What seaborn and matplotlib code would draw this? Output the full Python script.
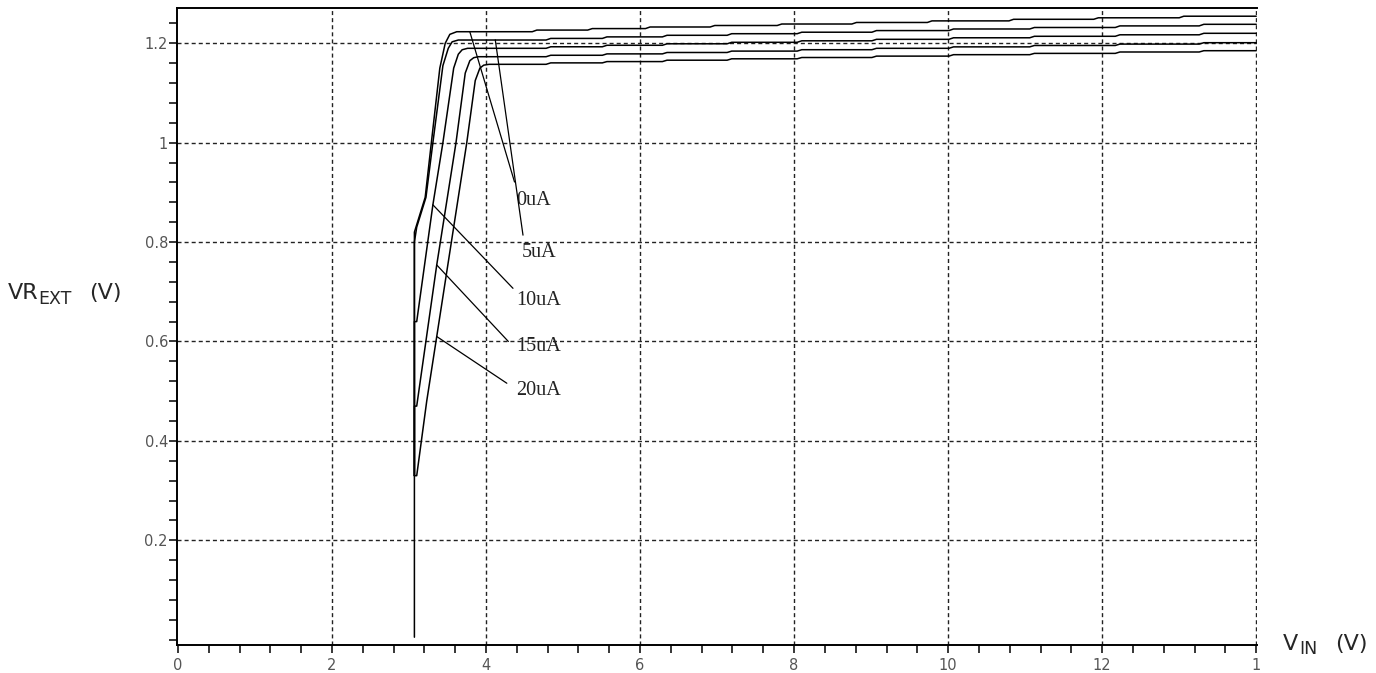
import pandas as pd
import matplotlib
matplotlib.use("Agg")
import matplotlib.pyplot as plt
import seaborn as sns
from matplotlib.ticker import MultipleLocator

# --- Values (VIN in V, VR_EXT in V) ---
curve_names = ["0uA", "5uA", "10uA", "15uA", "20uA"]

# steep rising part of each curve (starts with the vertical jump at ~3.07 V)
rise_x_0 = [3.07, 3.07, 3.10, 3.15, 3.21, 3.29, 3.40, 3.47, 3.53, 3.62]
rise_y_0 = [0.005, 0.82, 0.835, 0.86, 0.89, 1.0, 1.15, 1.20, 1.218, 1.2233]
rise_x_5 = [3.07, 3.07, 3.10, 3.22, 3.31, 3.44, 3.51, 3.56, 3.64]
rise_y_5 = [0.33, 0.80, 0.83, 0.89, 1.0, 1.155, 1.19, 1.203, 1.2066]
rise_x_10 = [3.07, 3.07, 3.10, 3.31, 3.44, 3.58, 3.64, 3.69, 3.76]
rise_y_10 = [0.33, 0.64, 0.64, 0.875, 1.0, 1.15, 1.178, 1.187, 1.1899]
rise_x_15 = [3.07, 3.07, 3.10, 3.36, 3.61, 3.73, 3.79, 3.84, 3.90]
rise_y_15 = [0.33, 0.47, 0.47, 0.754, 1.0, 1.14, 1.165, 1.171, 1.1730]
rise_x_20 = [3.07, 3.10, 3.23, 3.36, 3.48, 3.75, 3.86, 3.92, 3.97, 4.04]
rise_y_20 = [0.33, 0.33, 0.48, 0.61, 0.73, 1.0, 1.125, 1.15, 1.156, 1.1577]

# small staircase steps on the flat part
steps_0 = [4.63, 5.35, 6.10, 6.94, 7.81, 8.78, 9.76, 10.82, 11.92, 13.03]
steps_other = [4.81, 5.54, 6.32, 7.16, 8.07, 9.04, 10.04, 11.09, 12.20, 13.29]

levels_0 = [1.2233, 1.2266, 1.2296, 1.2328, 1.2358, 1.2388, 1.2419, 1.2451, 1.2483, 1.2513, 1.2545]
levels_5 = [1.2066, 1.2098, 1.2129, 1.2161, 1.2193, 1.2223, 1.2256, 1.2288, 1.2318, 1.2350, 1.2382]
levels_10 = [1.1899, 1.1930, 1.1960, 1.1990, 1.2020, 1.2050, 1.2080, 1.2111, 1.2141, 1.2171, 1.2201]
levels_15 = [1.1730, 1.1759, 1.1787, 1.1815, 1.1843, 1.1871, 1.1899, 1.1928, 1.1956, 1.1984, 1.2012]
levels_20 = [1.1577, 1.1606, 1.1632, 1.1660, 1.1688, 1.1714, 1.1742, 1.1771, 1.1797, 1.1825, 1.1851]

# label leader lines: (x0, y0) on the curve -> (x1, y1) next to the text
leader_start = [(3.79, 1.223), (4.12, 1.207), (3.31, 0.875), (3.36, 0.754), (3.36, 0.61)]
leader_end = [(4.37, 0.921), (4.48, 0.814), (4.35, 0.707), (4.29, 0.600), (4.27, 0.516)]
label_pos = [(4.39, 0.883), (4.46, 0.780), (4.39, 0.682), (4.39, 0.589), (4.39, 0.502)]

x_ticks = [0, 2, 4, 6, 8, 10, 12, 14]
x_tick_labels = ["0", "2", "4", "6", "8", "10", "12", "1"]
y_ticks = [0.2, 0.4, 0.6, 0.8, 1.0, 1.2]
y_tick_labels = ["0.2", "0.4", "0.6", "0.8", "1", "1.2"]


def staircase(rise_x, rise_y, step_x, levels, x_end=14.0):
    xs, ys = list(rise_x), list(rise_y)
    for i, sx in enumerate(step_x):
        xs += [sx - 0.03, sx + 0.03]
        ys += [levels[i], levels[i + 1]]
    xs.append(x_end)
    ys.append(levels[-1])
    return xs, ys


curves = [
    staircase(rise_x_0, rise_y_0, steps_0, levels_0),
    staircase(rise_x_5, rise_y_5, steps_other, levels_5),
    staircase(rise_x_10, rise_y_10, steps_other, levels_10),
    staircase(rise_x_15, rise_y_15, steps_other, levels_15),
    staircase(rise_x_20, rise_y_20, steps_other, levels_20),
]

rows = []
for name, (xs, ys) in zip(curve_names, curves):
    for i, (xv, yv) in enumerate(zip(xs, ys)):
        rows.append({"curve": name, "idx": i, "vin": xv, "vr": yv})
df = pd.DataFrame(rows)

# --- Plot ---
sns.set_style("white")
fig = plt.figure(figsize=(13.76, 6.73), dpi=100)
ax = fig.add_axes([0.1286, 0.0416, 0.7849, 0.9465])

sns.lineplot(data=df, x="vin", y="vr", units="curve", estimator=None, sort=False,
             color="black", lw=1.1, ax=ax)

for (x0, y0), (x1, y1), (tx, ty), name in zip(leader_start, leader_end, label_pos, curve_names):
    ax.annotate("", xy=(x1, y1), xytext=(x0, y0),
                arrowprops=dict(arrowstyle="-", color="black", lw=0.9, shrinkA=0, shrinkB=0))
    ax.text(tx, ty, name, ha="left", va="center", fontsize=14.5,
            family="Liberation Serif", color="#222222")

ax.set_xlim(-0.013, 14.01)
ax.set_ylim(-0.0107, 1.271)
ax.set_xticks(x_ticks)
ax.set_xticklabels(x_tick_labels)
ax.set_yticks(y_ticks)
ax.set_yticklabels(y_tick_labels)
ax.xaxis.set_minor_locator(MultipleLocator(0.4))
ax.yaxis.set_minor_locator(MultipleLocator(0.04))
ax.tick_params(which="both", direction="out", length=5.5, width=1.1, color="black",
               bottom=True, left=True, top=False, right=False)
ax.tick_params(axis="x", which="major", pad=4, labelsize=10.5, labelcolor="#555555")
ax.tick_params(axis="y", which="major", pad=1, labelsize=10.5, labelcolor="#555555")

ax.grid(which="major", linestyle=(0, (2.9, 2.2)), color="#222222", lw=1.0)
ax.get_xgridlines()[0].set_visible(False)
ax.set_axisbelow(True)

for side in ["left", "bottom", "top"]:
    ax.spines[side].set_color("black")
    ax.spines[side].set_linewidth(1.4)
ax.spines["right"].set_visible(False)

ax.set_xlabel("")
ax.set_ylabel("")

# axis titles built from pieces so the subscript sits like in the reference
W, H = 1376, 673
fig.text(8 / W, 1 - 299 / H, "VR", ha="left", va="baseline", fontsize=16, family="DejaVu Sans")
fig.text(38 / W, 1 - 304 / H, "EXT", ha="left", va="baseline", fontsize=12.5, family="DejaVu Sans")
fig.text(89 / W, 1 - 299 / H, "(V)", ha="left", va="baseline", fontsize=16, family="DejaVu Sans")
fig.text(1283 / W, 1 - 650 / H, "V", ha="left", va="baseline", fontsize=16, family="DejaVu Sans")
fig.text(1299 / W, 1 - 654 / H, "IN", ha="left", va="baseline", fontsize=12.5, family="DejaVu Sans")
fig.text(1335 / W, 1 - 650 / H, "(V)", ha="left", va="baseline", fontsize=16, family="DejaVu Sans")

fig.savefig("out.png", dpi=100)
